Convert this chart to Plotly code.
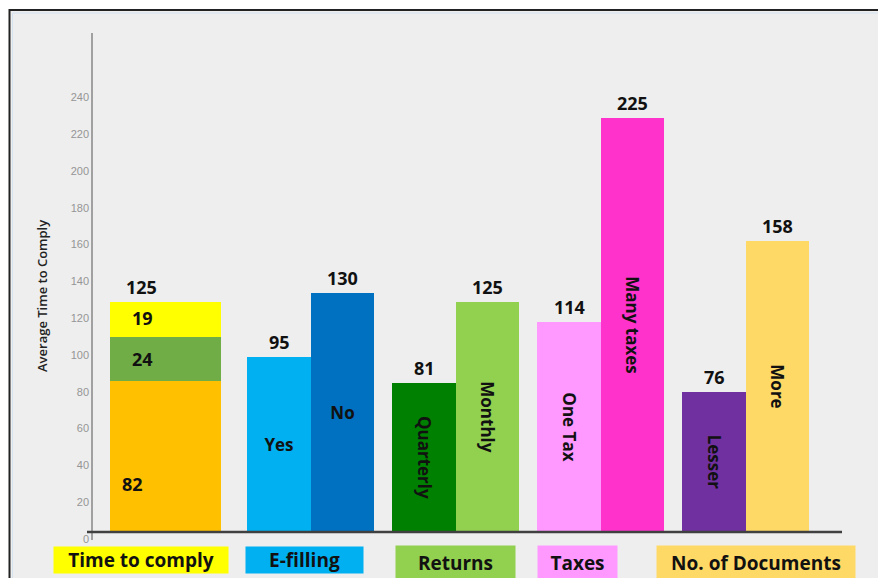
import plotly.graph_objects as go

# ---------------- data ----------------
categories = ["Time to comply", "E-filling", "Returns", "Taxes", "No. of Documents"]
stack_labels = ["82", "24", "19"]
stack_values = [82, 24, 19]
stack_total = 125
pair_names = [["Yes", "No"], ["Quarterly", "Monthly"], ["One Tax", "Many taxes"], ["Lesser", "More"]]
pair_values = [[95, 130], [81, 125], [114, 225], [76, 158]]
y_ticks = list(range(0, 241, 20))

# ---------------- style ----------------
stack_colors = ["#FFC000", "#70AD47", "#FFFF00"]
pair_colors = [["#00B0F0", "#0070C0"], ["#008000", "#92D050"],
               ["#FF99FF", "#FF33CC"], ["#7030A0", "#FFD966"]]
box_colors = ["#FFFF00", "#00B0F0", "#92D050", "#FF99FF", "#FFD966"]
pair_angles = [0, 90, 90, 90]

W, H = 878, 578
ML, MR, MT, MB = 93, 36, 33, 38
PW, PH = W - ML - MR, H - MT - MB
FONT = "Open Sans"

def px_x(px):
    return (px - ML) / PW

def px_y(py):
    return (H - MB - py) / PH

fig = go.Figure()

# stacked first bar
bases = [sum(stack_values[:i]) for i in range(len(stack_values))]
fig.add_trace(go.Bar(
    x=[categories[0]] * len(stack_values), y=stack_values, base=bases,
    offset=-0.386, width=0.772,
    marker=dict(color=stack_colors, line=dict(width=0)),
    hoverinfo="skip", showlegend=False))

# pair bars
L_OFF, R_OFF, BW = -0.435, 0.002, 0.437
for i, (names, vals) in enumerate(zip(pair_names, pair_values)):
    cat = categories[i + 1]
    fig.add_trace(go.Bar(
        x=[cat, cat], y=vals, offset=[L_OFF, R_OFF], width=[BW, BW],
        marker=dict(color=pair_colors[i], line=dict(width=0)),
        text=names, textposition="inside", insidetextanchor="middle",
        textangle=pair_angles[i], constraintext="none",
        insidetextfont=dict(family=FONT, size=17, color="#111111", weight="bold"),
        hoverinfo="skip", showlegend=False))

annotations = []
bold = dict(family=FONT, size=18, color="#111111", weight="bold")

# value labels above pair bars
for i, vals in enumerate(pair_values):
    for off, v in zip([L_OFF, R_OFF], vals):
        annotations.append(dict(
            x=i + 1 + off + BW / 2, y=v, xref="x", yref="y",
            text=str(v), showarrow=False, yanchor="bottom", yshift=1, font=bold))

# stack labels
annotations.append(dict(x=-0.166, y=stack_total, xref="x", yref="y", text=str(stack_total),
                        showarrow=False, yanchor="bottom", yshift=1, font=bold))
seg_pos = [(-0.228, 0.32), (-0.159, 0.5), (-0.159, 0.55)]
for (xo, frac), b, v, lab in zip(seg_pos, bases, stack_values, stack_labels):
    annotations.append(dict(x=xo, y=b + v * frac, xref="x", yref="y", text=lab,
                            showarrow=False, font=bold))

# category boxes at bottom
box_specs = [(-0.166, 174, 560, 26), (0.962, 117, 560, 26), (1.997, 119, 563, 34),
             (2.845, 79, 563, 34), (4.076, 198, 563, 34)]
for cat, col, (xc, bw, yc, bh) in zip(categories, box_colors, box_specs):
    annotations.append(dict(
        x=xc, y=px_y(yc), xref="x", yref="paper", text=cat, showarrow=False,
        bgcolor=col, width=bw, height=bh, borderpad=0, align="center",
        valign="middle", xanchor="center", yanchor="middle",
        font=dict(family=FONT, size=19, color="#111111", weight="bold")))

# y axis title
annotations.append(dict(
    x=px_x(42), y=px_y(296), xref="paper", yref="paper", text="Average Time to Comply",
    showarrow=False, textangle=-90, xanchor="center", yanchor="middle",
    font=dict(family=FONT, size=13, color="#222222", weight=600)))

shapes = [
    dict(type="rect", xref="paper", yref="paper", layer="below",
         x0=px_x(9.5), x1=px_x(W + 20), y0=px_y(H + 20), y1=px_y(10),
         fillcolor="#EEEEEE", line=dict(color="#222222", width=2)),
    dict(type="rect", xref="paper", yref="paper", layer="below",
         x0=px_x(12.5), x1=px_x(W + 20), y0=px_y(H + 20), y1=px_y(13),
         fillcolor="rgba(0,0,0,0)", line=dict(color="#D4E2F0", width=1)),
    dict(type="line", xref="paper", yref="y", layer="above",
         x0=px_x(87), x1=px_x(842), y0=0, y1=0,
         line=dict(color="#404040", width=2.5)),
]

fig.update_layout(
    width=W, height=H, margin=dict(l=ML, r=MR, t=MT, b=MB, autoexpand=False),
    paper_bgcolor="white", plot_bgcolor="rgba(0,0,0,0)",
    barmode="overlay", bargap=0,
    annotations=annotations, shapes=shapes,
    xaxis=dict(type="category", categoryorder="array", categoryarray=categories,
               range=[-0.5, 4.666], showticklabels=False, showgrid=False,
               zeroline=False, showline=False, ticks=""),
    yaxis=dict(range=[-4.35, 271.2], tickvals=y_ticks, showgrid=False, zeroline=False,
               showline=True, linecolor="#A0A0A0", linewidth=1.5, ticks="",
               ticklabelshift=7, ticklabelstandoff=0,
               tickfont=dict(family="Liberation Sans", size=11, color="#959595")),
)

fig.write_html("out.html")
